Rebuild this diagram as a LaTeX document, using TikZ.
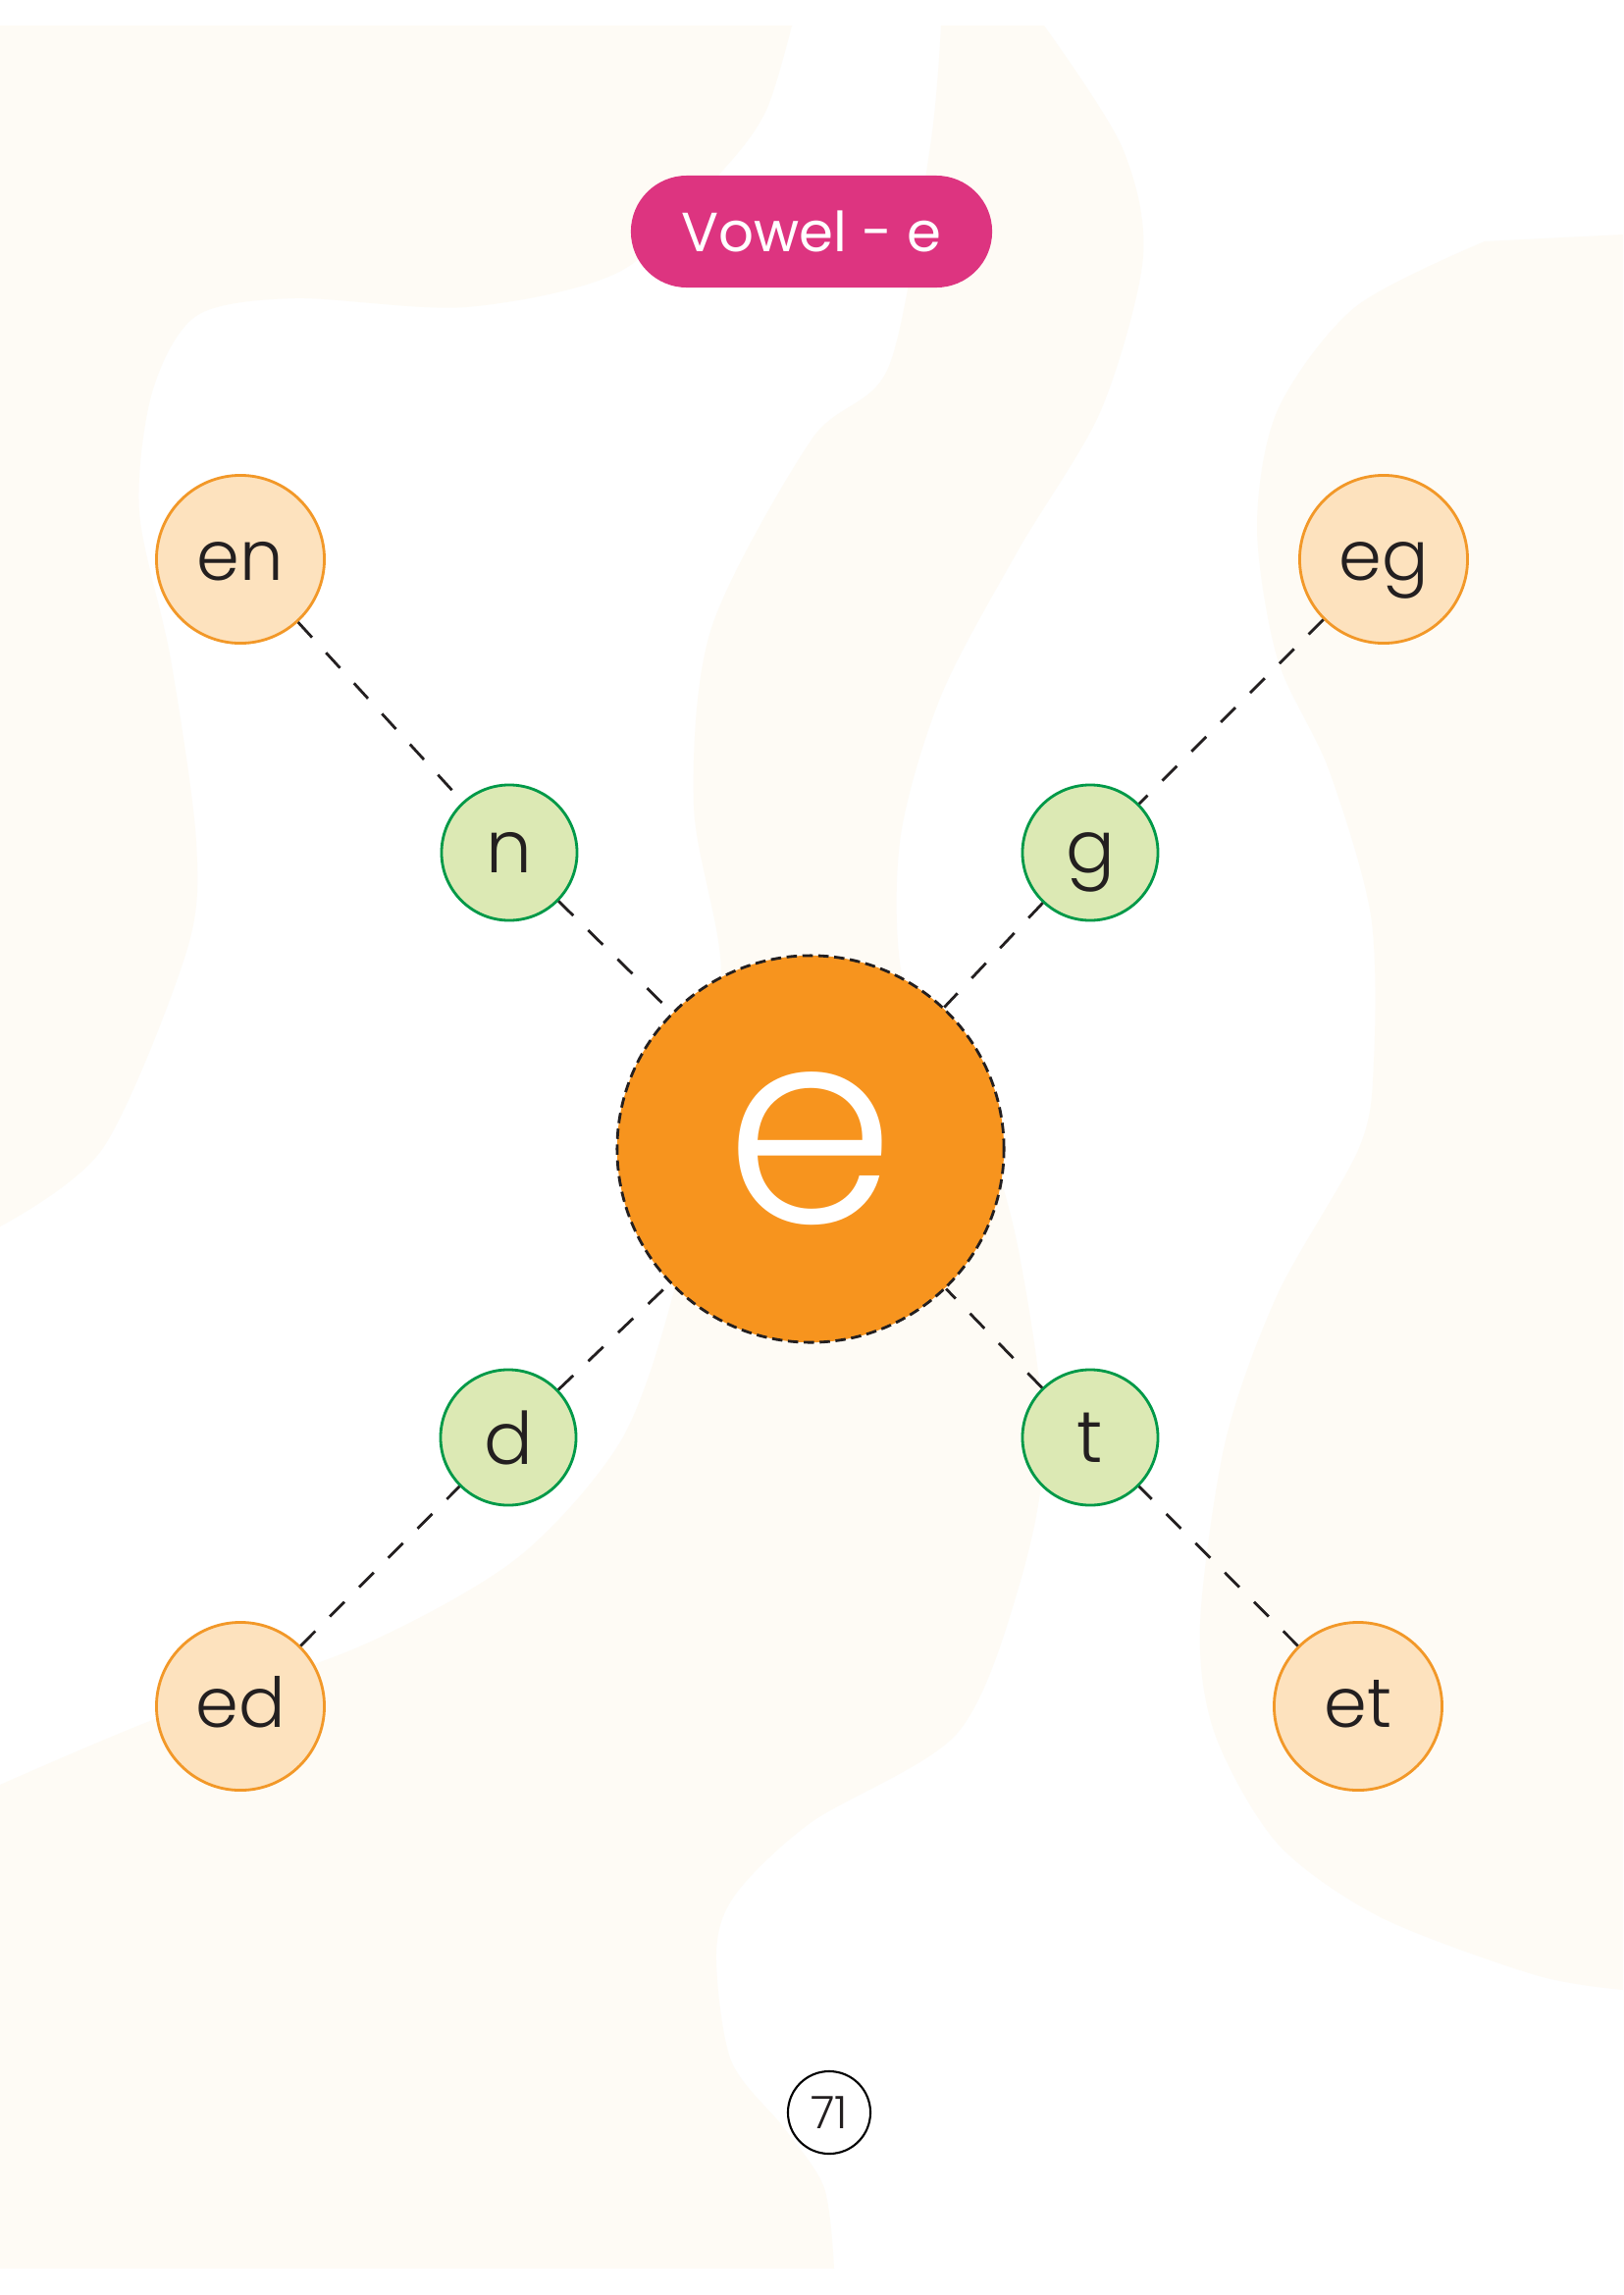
\documentclass[tikz,border=0pt]{standalone}
\usepackage{fontspec}
\IfFontExistsTF{Poppins Light}{\setmainfont{Poppins Light}}{\setmainfont{Poppins}}
\newfontfamily\titlefont{Poppins}
\usepackage{xcolor}
\usepackage{tikz}

\definecolor{bgcream}{RGB}{254,251,245}
\definecolor{vorange}{RGB}{247,148,30}
\definecolor{cgreen}{RGB}{220,233,180}
\definecolor{cgreenline}{RGB}{0,153,72}
\definecolor{wpeach}{RGB}{253,226,190}
\definecolor{wline}{RGB}{242,152,40}
\definecolor{pillpink}{RGB}{221,52,128}
\definecolor{inkdark}{RGB}{35,31,32}

\begin{document}
\begin{tikzpicture}[
  x=0.01cm, y=-0.01cm,
  vowelc/.style = {circle, fill=vorange, draw=inkdark, line width=0.8pt,
    dash pattern=on 3pt off 1.6pt, minimum size=3.94cm, inner sep=0pt,
    text=white, font=\fontsize{79}{79}\selectfont},
  cons/.style = {circle, fill=cgreen, draw=cgreenline, line width=0.8pt,
    minimum size=1.38cm, inner sep=0pt, text depth=0pt, text=inkdark,
    font=\fontsize{21}{21}\selectfont},
  word/.style = {circle, fill=wpeach, draw=wline, line width=0.8pt,
    minimum size=1.71cm, inner sep=0pt, text height=12pt, text depth=0pt,
    text=inkdark, font=\fontsize{20}{20}\selectfont},
  link/.style = {draw=inkdark, line width=0.8pt, dash pattern=on 6pt off 6pt},
  pill/.style = {rounded corners=0.57cm, fill=pillpink, minimum width=3.68cm,
    minimum height=1.14cm, text=white, font=\titlefont\fontsize{16}{16}\selectfont},
  pagenum/.style = {circle, draw=black, line width=0.6pt, minimum size=0.84cm,
    inner sep=0pt, text=inkdark, font=\fontsize{13}{13}\selectfont},
]
\useasboundingbox (0,0) rectangle (1654,2339);
\fill[white] (0,0) rectangle (1654,2339);

% background blobs
\fill[bgcream] (0,26) -- plot[smooth] coordinates {(807,26) (781,112) (738,172)
  (633,276) (475,313) (300,304) (200,322) (155,400) (142,522) (174,672) (200,858)
  (190,970) (105,1170) (0,1250)} -- cycle;
\fill[bgcream] (0,2312) -- plot[smooth] coordinates {(0,1819) (158,1752) (369,1677)
  (527,1588) (633,1468) (686,1319) (712,1170) (735,990) (707,821) (725,640)
  (827,448) (906,373) (948,149) (959,26)} -- plot[smooth] coordinates {(1064,26)
  (1143,149) (1165,261) (1122,418) (1038,560) (959,709) (917,858) (922,1007)
  (990,1120) (1035,1260) (1064,1468) (1038,1618) (975,1767) (827,1857) (750,1930)
  (730,1990) (745,2100) (800,2170) (840,2230) (850,2312)} -- cycle;
\fill[bgcream] (1654,239) -- plot[smooth] coordinates {(1513,246) (1381,313)
  (1302,418) (1281,537) (1302,672) (1354,784) (1397,933) (1400,1082) (1385,1170)
  (1302,1319) (1249,1468) (1223,1655) (1238,1767) (1302,1879) (1407,1954)
  (1565,2013) (1654,2028)} -- cycle;

\node[pill] (title) at (827,236) {Vowel - e};

\node[vowelc] (vowel) at (826,1171) {e};

\node[cons] (n) at (519,869) {n};
\node[cons] (g) at (1111,869) {g};
\node[cons] (d) at (518,1465) {d};
\node[cons] (t) at (1111,1465) {t};

\node[word] (en) at (245,570) {en};
\node[word] (eg) at (1410,570) {eg};
\node[word] (ed) at (245,1739) {ed};
\node[word] (et) at (1384,1739) {et};

\foreach \w/\c in {en/n, eg/g, ed/d, et/t} {
  \draw[link] (\w) -- (\c);
  \draw[link] (\c) -- (vowel);
}

\node[pagenum] (page) at (845,2153) {71};
\end{tikzpicture}
\end{document}
